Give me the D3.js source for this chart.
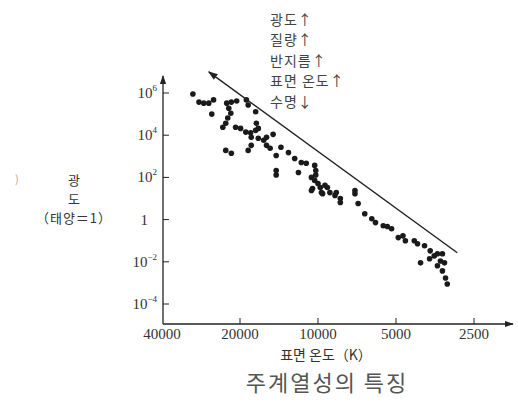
<!DOCTYPE html>
<html>
<head>
<meta charset="utf-8">
<script src="https://cdn.jsdelivr.net/npm/d3@7"></script>
<style>
  body { margin: 0; background: #fff; }
</style>
</head>
<body>
<svg id="drawing_region"></svg>
<script>
// 표면 온도(K)
const temps = [30400, 28800, 27600, 26400, 25300, 25700, 22500, 21600, 20600, 22100,
    21700, 22300, 22700, 23300, 18900, 18600, 17400, 20800, 19900, 19000,
    18200, 17400, 17300, 17000, 18100, 17000, 16200, 15800, 14900, 15800,
    15300, 18100, 18600, 22700, 21600, 14500, 13900, 13000, 12300, 11600,
    11100, 10300, 10200, 14500, 14500, 11900, 10600, 10200, 10300, 10000,
    9800, 10500, 9700, 9200, 9000, 8600, 8200, 10600, 9400, 9600,
    8500, 8200, 7200, 7200, 7000, 6600, 6200, 6000, 5600, 5400,
    5200, 4900, 4700, 4600, 4250, 4130, 3880, 3690, 3560, 3460,
    3310, 3370, 3250, 3460, 3310, 3220, 3170, 4020, 3710];
// 광도 (태양=1)
const lums = [8.9e5, 3.7e5, 3.3e5, 3.3e5, 4.7e5, 1.0e5, 3.3e5, 3.7e5, 4.2e5, 1.9e5,
    1.1e5, 6.5e4, 3.7e4, 2.4e4, 4.7e5, 2.7e5, 1.3e5, 2.4e4, 2.1e4, 1.4e4,
    1.3e4, 1.7e4, 3.7e4, 2.1e4, 7.9e3, 7.2e3, 5.8e3, 7.9e3, 1.1e4, 3.3e3,
    2.4e3, 3.3e3, 1.9e3, 1.9e3, 1.4e3, 1.1e3, 2.7e3, 1.5e3, 790, 510,
    470, 370, 210, 210, 130, 170, 100, 130, 72, 51,
    33, 30, 19, 33, 19, 14, 10, 24, 42, 17,
    19, 6.5, 24, 17, 5.8, 1.9, 1.1, 0.72, 0.51, 0.47,
    0.37, 0.14, 0.17, 0.10, 0.10, 0.072, 0.058, 0.033, 0.019, 0.024,
    0.024, 0.011, 0.0089, 0.0065, 0.0037, 0.0017, 0.00089, 0.0089, 0.014];

const xTicks = [40000, 20000, 10000, 5000, 2500];
const yExps = [6, 4, 2, 0, -2, -4];
const notes = ['광도↑', '질량↑', '반지름↑', '표면 온도↑', '수명↓'];
// 화살표 직선 (온도, 광도)
const trendT = [2900, 26400];
const trendL = [0.027, 1e7];

const width = 518, height = 408;
const serif = '"Liberation Serif", "DejaVu Serif", serif';
const kr = '"Noto Sans CJK KR", sans-serif';

const svg = d3.select('#drawing_region')
    .attr('width', width)
    .attr('height', height);

const xscale = d3.scaleLog().domain([40000, 2500]).range([162, 474]);
const yscale = d3.scaleLog().domain([1e-4, 1e6]).range([304, 93]);
const x0 = 163, y0 = 324;

svg.append('defs').append('marker')
    .attr('id', 'arrow')
    .attr('viewBox', '0 0 10 10')
    .attr('refX', 9).attr('refY', 5)
    .attr('markerWidth', 7).attr('markerHeight', 7)
    .attr('orient', 'auto')
    .append('path')
    .attr('d', 'M0,1.5 L10,5 L0,8.5 z')
    .attr('fill', '#222');

// 축
svg.append('line')
    .attr('x1', x0).attr('y1', y0).attr('x2', x0).attr('y2', 76)
    .attr('stroke', '#222').attr('stroke-width', 1.3)
    .attr('marker-end', 'url(#arrow)');
svg.append('line')
    .attr('x1', x0).attr('y1', y0).attr('x2', 513).attr('y2', y0)
    .attr('stroke', '#222').attr('stroke-width', 1.3)
    .attr('marker-end', 'url(#arrow)');

// y 눈금
svg.selectAll('.ytick')
    .data(yExps)
    .join('line')
    .attr('class', 'ytick')
    .attr('x1', x0).attr('x2', x0 + 6)
    .attr('y1', d => yscale(Math.pow(10, d)))
    .attr('y2', d => yscale(Math.pow(10, d)))
    .attr('stroke', '#222').attr('stroke-width', 1);

const ylab = svg.selectAll('.ylab')
    .data(yExps)
    .join('text')
    .attr('class', 'ylab')
    .attr('x', d => d === 0 ? 148 : 157)
    .attr('y', d => yscale(Math.pow(10, d)) + 5)
    .attr('text-anchor', 'end')
    .attr('font-family', serif)
    .attr('font-size', 15)
    .attr('fill', '#333');
ylab.append('tspan').text(d => d === 0 ? '1' : '10');
ylab.filter(d => d !== 0).append('tspan')
    .attr('dy', -7)
    .attr('font-size', 9)
    .text(d => String(d).replace('-', '−'));

// x 눈금
svg.selectAll('.xtick')
    .data(xTicks.slice(1))
    .join('line')
    .attr('class', 'xtick')
    .attr('x1', d => xscale(d)).attr('x2', d => xscale(d))
    .attr('y1', y0).attr('y2', y0 - 6)
    .attr('stroke', '#222').attr('stroke-width', 1);

svg.selectAll('.xlab')
    .data(xTicks)
    .join('text')
    .attr('class', 'xlab')
    .attr('x', d => xscale(d))
    .attr('y', 339)
    .attr('text-anchor', 'middle')
    .attr('font-family', serif)
    .attr('font-size', 15)
    .attr('fill', '#333')
    .text(d => d);

// 점
svg.selectAll('circle')
    .data(temps.map((t, i) => ({ t: t, l: lums[i] })))
    .join('circle')
    .attr('cx', d => xscale(d.t))
    .attr('cy', d => yscale(d.l))
    .attr('r', 2.8)
    .attr('fill', '#1a1a1a');

// 화살표 직선
svg.append('line')
    .attr('x1', xscale(trendT[0])).attr('y1', yscale(trendL[0]))
    .attr('x2', xscale(trendT[1])).attr('y2', yscale(trendL[1]))
    .attr('stroke', '#222').attr('stroke-width', 1.4)
    .attr('marker-end', 'url(#arrow)');

// 주석
svg.selectAll('.note')
    .data(notes)
    .join('text')
    .attr('class', 'note')
    .attr('x', 270)
    .attr('y', (d, i) => 25 + i * 20.4)
    .attr('font-family', kr)
    .attr('font-size', 14)
    .attr('letter-spacing', 1)
    .attr('fill', '#444')
    .text(d => d);

// 축 제목
const yt = svg.append('g')
    .attr('font-family', kr)
    .attr('font-size', 13)
    .attr('fill', '#333')
    .attr('text-anchor', 'middle');
yt.append('text').attr('x', 74).attr('y', 185).text('광');
yt.append('text').attr('x', 74).attr('y', 204).text('도');
yt.append('text').attr('x', 74).attr('y', 223).attr('letter-spacing', 1).text('（태양＝1）');

svg.append('text')
    .attr('x', 15).attr('y', 183)
    .attr('font-family', kr).attr('font-size', 11)
    .attr('fill', '#aaa')
    .text(')');

svg.append('text')
    .attr('x', 326).attr('y', 360)
    .attr('text-anchor', 'middle')
    .attr('font-family', kr)
    .attr('font-size', 14)
    .attr('fill', '#333')
    .text('표면 온도（K）');

svg.append('text')
    .attr('x', 327).attr('y', 391)
    .attr('text-anchor', 'middle')
    .attr('font-family', kr)
    .attr('font-size', 22)
    .attr('letter-spacing', 2)
    .attr('fill', '#555')
    .text('주계열성의 특징');
</script>
</body>
</html>
